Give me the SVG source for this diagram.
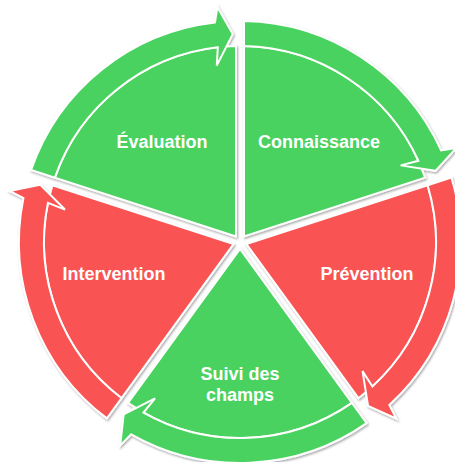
<svg xmlns="http://www.w3.org/2000/svg" xmlns:xlink="http://www.w3.org/1999/xlink" width="455" height="462" viewBox="0 0 455 462">
  <style>
    .green { fill: #4AD25E; }
    .red { fill: #F95353; }
    .label { font-family: "Liberation Sans", Arial, sans-serif; font-weight: bold; font-size: 18px; fill: #FFFFFF; text-anchor: middle; }
  </style>
  <defs>
    <filter id="shadow" x="-10%" y="-10%" width="120%" height="120%">
      <feDropShadow dx="1" dy="1.5" stdDeviation="1.2" flood-color="#000" flood-opacity="0.35"/>
    </filter>
    <!-- one cycle segment, drawn around the origin from -90deg to -18deg (clockwise):
         inner wedge plus the curved arrow band with its head -->
    <g id="seg" stroke="#FFFFFF" stroke-width="2" stroke-linejoin="miter">
      <path d="M4,-5.506 L4,-195.959 A196,196 0 0 1 185.133,-64.359 Z"/>
      <path d="M4,-220.964 A221,221 0 0 1 201.10,-91.65 L216.43,-94.11 L195.46,-71.14 L160.66,-76.63 L178.35,-81.28 A196,196 0 0 0 4,-195.959 Z"/>
    </g>
  </defs>

  <g id="connaissance" class="green">
    <g filter="url(#shadow)"><use href="#seg" transform="translate(240,242) rotate(0)"/></g>
    <text class="label" x="319" y="148">Connaissance</text>
  </g>
  <g id="prevention" class="red">
    <g filter="url(#shadow)"><use href="#seg" transform="translate(240,242) rotate(72)"/></g>
    <text class="label" x="367" y="280">Prévention</text>
  </g>
  <g id="suivi" class="green">
    <g filter="url(#shadow)"><use href="#seg" transform="translate(240,242) rotate(144)"/></g>
    <text class="label" x="240" y="380">Suivi des</text>
    <text class="label" x="240" y="401">champs</text>
  </g>
  <g id="intervention" class="red">
    <g filter="url(#shadow)"><use href="#seg" transform="translate(240,242) rotate(216)"/></g>
    <text class="label" x="114" y="280">Intervention</text>
  </g>
  <g id="evaluation" class="green">
    <g filter="url(#shadow)"><use href="#seg" transform="translate(240,242) rotate(288)"/></g>
    <text class="label" x="162" y="148">Évaluation</text>
  </g>
  <g id="connectors"/>
</svg>
